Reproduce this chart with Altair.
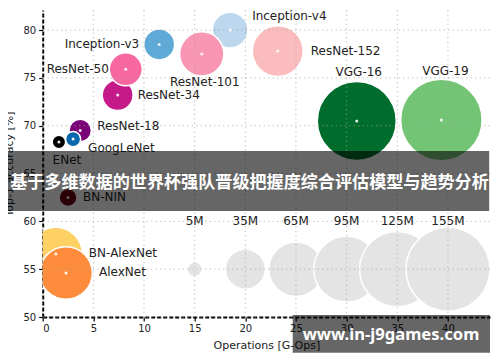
import altair as alt
import pandas as pd

# ---- data ----
names = ["BN-AlexNet", "AlexNet", "BN-NIN", "ResNet-18", "GoogLeNet", "ENet",
         "ResNet-34", "ResNet-50", "Inception-v3", "Inception-v4", "ResNet-101",
         "ResNet-152", "VGG-16", "VGG-19"]
ops = [1.3, 2.3, 2.5, 3.7, 3.0, 1.6, 7.4, 8.2, 11.5, 18.5, 15.7, 23.2, 31.0, 39.35]
acc = [56.6, 54.6, 62.5, 69.5, 68.6, 68.3, 73.2, 75.9, 78.5, 80.0, 77.5, 77.8, 70.5, 70.6]
params = [62, 61, 7, 11, 5, 4, 21, 24, 21, 28, 43, 57, 137, 146]
colors = ["#fed165", "#fd8d3c", "#67000d", "#7a0177", "#0868ac", "#000000",
          "#c51b8a", "#f768a1", "#5ea9d6", "#bdd7ee", "#f896b4",
          "#fbbcbe", "#006d2c", "#74c476"]

legend_params = [5, 35, 65, 95, 125, 155]
legend_ops = [15, 20, 25, 30, 35, 40]
legend_labels = ["5M", "35M", "65M", "95M", "125M", "155M"]
legend_acc = [55, 55, 55, 55, 55, 55]
legend_label_acc = [60, 60, 60, 60, 60, 60]

x_ticks = [0, 5, 10, 15, 20, 25, 30, 35, 40]
y_ticks = [50, 55, 60, 65, 70, 75, 80]

banner_text = "基于多维数据的世界杯强队晋级把握度综合评估模型与趋势分析"
watermark_text = "www.in-j9games.com"

df = pd.DataFrame({"name": names, "ops": ops, "acc": acc, "params": params, "color": colors})
leg = pd.DataFrame({"ops": legend_ops, "acc": legend_acc, "params": legend_params,
                    "label": legend_labels, "lacc": legend_label_acc})
gx = pd.DataFrame({"v": x_ticks})
gy = pd.DataFrame({"v": y_ticks})
one = pd.DataFrame({"k": [0]})

FONT = "DejaVu Sans"
X = alt.X("ops:Q", scale=alt.Scale(domain=[0, 44.15], nice=False, zero=False),
          axis=alt.Axis(title="Operations [G-Ops]", values=x_ticks, grid=False,
                        labelFontSize=10, titleFontSize=11, labelFont=FONT, titleFont=FONT,
                        titleFontWeight="normal", labelColor="#222", titleColor="#222",
                        tickSize=4, tickColor="black", tickWidth=1.2,
                        domainColor="black", domainWidth=2, domainDash=[4, 2],
                        labelPadding=2, titlePadding=6))
Y = alt.Y("acc:Q", scale=alt.Scale(domain=[50, 82.1], nice=False, zero=False),
          axis=alt.Axis(title="Top-1 accuracy [%]", values=y_ticks, grid=False,
                        labelFontSize=10, titleFontSize=11, labelFont=FONT, titleFont=FONT,
                        titleFontWeight="normal", labelColor="#222", titleColor="#222",
                        tickSize=4, tickColor="black", tickWidth=1.2,
                        domainColor="black", domainWidth=2, domainDash=[4, 2],
                        labelPadding=3, titlePadding=8))
size_scale = alt.Scale(type="linear", domain=[0, 155], range=[0, 7056], zero=True)

base = alt.Chart(df)

bubbles = base.mark_point(filled=True, shape="circle", opacity=1, stroke="white",
                          strokeWidth=1.5, clip=True).encode(
    x=X, y=Y,
    size=alt.Size("params:Q", scale=size_scale, legend=None),
    fill=alt.Fill("color:N", scale=None),
)

legend_bubbles = alt.Chart(leg).mark_point(filled=True, shape="circle", opacity=1,
                                           fill="#e4e4e4", stroke="white",
                                           strokeWidth=1.5, clip=True).encode(
    x="ops:Q", y="acc:Q",
    size=alt.Size("params:Q", scale=size_scale, legend=None),
)

dots = base.mark_point(filled=True, shape="circle", fill="white", opacity=0.9,
                       size=9, strokeWidth=0).encode(x="ops:Q", y="acc:Q")

grid_x = alt.Chart(gx).mark_rule(color="#a0a0a0", strokeDash=[1.5, 3], strokeWidth=1,
                                 opacity=0.6).encode(x="v:Q")
grid_y = alt.Chart(gy).mark_rule(color="#a0a0a0", strokeDash=[1.5, 3], strokeWidth=1,
                                 opacity=0.6).encode(y="v:Q")

offsets = {
    "Inception-v4": (22, -14, "left"),
    "ResNet-152": (33, 0, "left"),
    "ResNet-101": (3, 28, "center"),
    "Inception-v3": (-20, 0, "right"),
    "ResNet-50": (-17, 0, "right"),
    "ResNet-34": (20, 0, "left"),
    "ResNet-18": (17, -5, "left"),
    "GoogLeNet": (15, 9, "left"),
    "ENet": (8, 18, "center"),
    "BN-NIN": (15, 0, "left"),
    "BN-AlexNet": (33, -1, "left"),
    "AlexNet": (33, -1, "left"),
    "VGG-16": (2, -49, "center"),
    "VGG-19": (4, -49, "center"),
}
label_layers = []
for n, (dx, dy, al) in offsets.items():
    label_layers.append(
        base.transform_filter(alt.datum.name == n).mark_text(
            dx=dx, dy=dy, align=al, baseline="middle", font=FONT, fontSize=12,
            color="#222").encode(x="ops:Q", y="acc:Q", text="name:N"))

legend_text = alt.Chart(leg).mark_text(align="center", baseline="middle", font=FONT,
                                       fontSize=12, color="#222").encode(
    x="ops:Q", y="lacc:Q", text="label:N")

banner = alt.Chart(one).mark_rect(color="black", opacity=0.6).encode(
    x=alt.value(-42.7), x2=alt.value(446.5), y=alt.value(141), y2=alt.value(201))
banner_t = alt.Chart(one).mark_text(text=banner_text, font="Noto Sans CJK SC",
                                    fontWeight="bold", fontSize=17.1, color="white",
                                    align="center", baseline="middle").encode(
    x=alt.value(206.8), y=alt.value(172.5))
wm = alt.Chart(one).mark_rect(color="black", opacity=0.6).encode(
    x=alt.value(250), x2=alt.value(447.3), y=alt.value(305), y2=alt.value(342.7))
wm_t = alt.Chart(one).mark_text(text=watermark_text, font="Noto Sans",
                                fontWeight="bold", fontSize=16.6, color="white",
                                align="center", baseline="middle").encode(
    x=alt.value(348.3), y=alt.value(325))

chart = alt.layer(
    bubbles, legend_bubbles, dots, grid_x, grid_y, *label_layers, legend_text,
    banner, banner_t, wm, wm_t
).properties(
    width=447.3, height=307,
    autosize=alt.AutoSizeParams(type="none"),
    padding={"left": 34.7, "top": 2, "right": 2, "bottom": 45},
).configure_view(stroke=None)

chart.save("out.html", embed_options={"renderer": "svg", "actions": False})
